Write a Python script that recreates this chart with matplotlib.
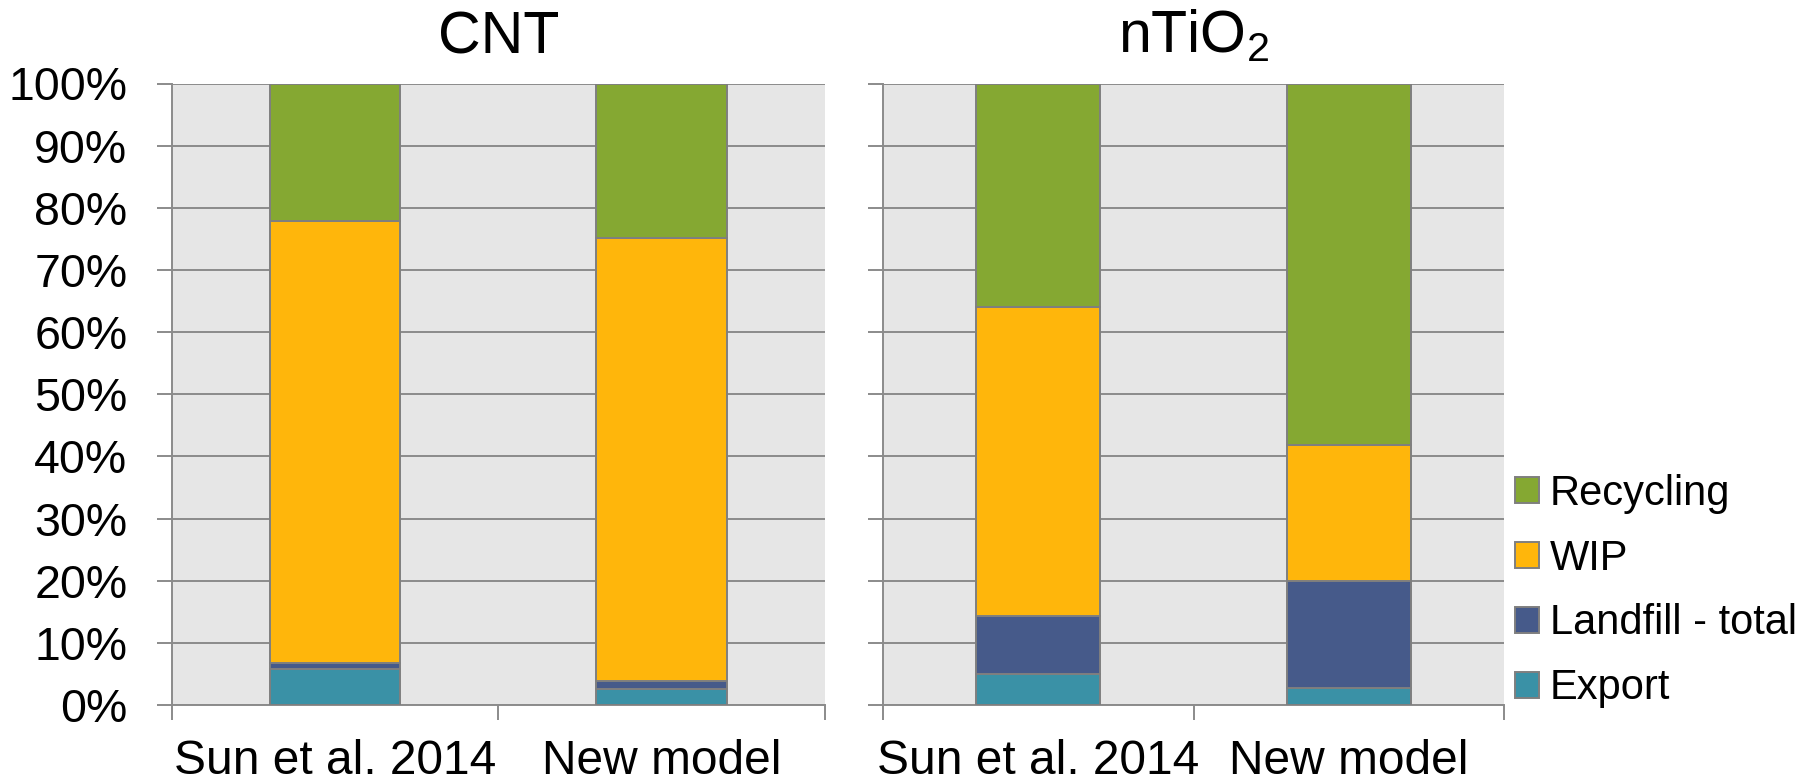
import matplotlib
matplotlib.use("Agg")
import matplotlib.pyplot as plt
from matplotlib.patches import Patch
from matplotlib.ticker import FixedLocator, PercentFormatter

plt.rcParams['font.family'] = ['Liberation Sans', 'DejaVu Sans']
plt.rcParams['mathtext.fontset'] = 'custom'
plt.rcParams['mathtext.rm'] = 'Liberation Sans'
plt.rcParams['mathtext.it'] = 'Liberation Sans:italic'

# ---- data ----
categories = ["Sun et al. 2014", "New model"]
panel_titles = ["CNT", "nTiO$_2$"]
series_names = ["Export", "Landfill - total", "WIP", "Recycling"]
cnt_export = [5.8, 2.5]
cnt_landfill = [0.9, 1.3]
cnt_wip = [71.2, 71.3]
cnt_recycling = [22.1, 24.9]
tio2_export = [5.0, 2.8]
tio2_landfill = [9.3, 17.1]
tio2_wip = [49.7, 21.9]
tio2_recycling = [36.0, 58.2]
yticks = list(range(0, 101, 10))

colors = {"Export": "#3A91A6", "Landfill - total": "#465A8A",
          "WIP": "#FFB60B", "Recycling": "#85A832"}
edge = "#7F7F7F"
grid_c = "#8B8B8B"
bg = "#E6E6E6"

panels = [
    [cnt_export, cnt_landfill, cnt_wip, cnt_recycling],
    [tio2_export, tio2_landfill, tio2_wip, tio2_recycling],
]

W, H = 1817, 781
fig = plt.figure(figsize=(W / 100, H / 100), dpi=100)

ax_pos = [(171.5, 825), (883, 1504)]
top_px, bot_px = 83.5, 705
tick_len = 10.8
lw = 1.4

axes = []
for i, (x0, x1) in enumerate(ax_pos):
    ax = fig.add_axes([x0 / W, 1 - bot_px / H, (x1 - x0) / W, (bot_px - top_px) / H])
    axes.append(ax)
    ax.set_facecolor(bg)
    xs = list(range(len(categories)))
    bottom = [0.0] * len(categories)
    for name, vals in zip(series_names, panels[i]):
        ax.bar(xs, vals, width=0.4, bottom=bottom, color=colors[name],
               edgecolor=edge, linewidth=lw, zorder=3)
        bottom = [b + v for b, v in zip(bottom, vals)]
    ax.set_xlim(-0.5, len(categories) - 0.5)
    ax.set_ylim(0, 100)
    ax.set_yticks(yticks)
    ax.yaxis.set_major_formatter(PercentFormatter(decimals=0))
    ax.grid(axis='y', color=grid_c, linewidth=lw, zorder=1)
    ax.set_axisbelow(True)
    for s in ['top', 'right']:
        ax.spines[s].set_visible(False)
    for s in ['left', 'bottom']:
        ax.spines[s].set_color(grid_c)
        ax.spines[s].set_linewidth(lw)
    ax.set_xticks(xs)
    ax.set_xticklabels(categories)
    ax.xaxis.set_minor_locator(FixedLocator([-0.5 + k for k in range(len(categories) + 1)]))
    ax.tick_params(axis='x', which='major', length=0, pad=24.5, labelsize=34.5)
    ax.tick_params(axis='x', which='minor', length=tick_len, width=lw, color=grid_c, direction='out')
    ax.tick_params(axis='y', which='major', length=tick_len, width=lw, color=grid_c,
                   direction='out', pad=21, labelsize=33.5)
    if i == 1:
        ax.tick_params(axis='y', labelleft=False)
    cx = (x0 + x1) / 2 / W
    fig.text(cx, 1 - 53 / H, panel_titles[i], ha='center', va='baseline', fontsize=42.5)

handles = [Patch(facecolor=colors[n], edgecolor=edge, linewidth=lw, label=n)
           for n in reversed(series_names)]
fig.legend(handles=handles, loc='center left', bbox_to_anchor=(1515 / W, 1 - 591 / H),
           frameon=False, fontsize=30, handlelength=0.58, handleheight=0.58,
           handletextpad=0.26, labelspacing=0.60, borderpad=0, borderaxespad=0)

fig.savefig("out.png", dpi=100)
